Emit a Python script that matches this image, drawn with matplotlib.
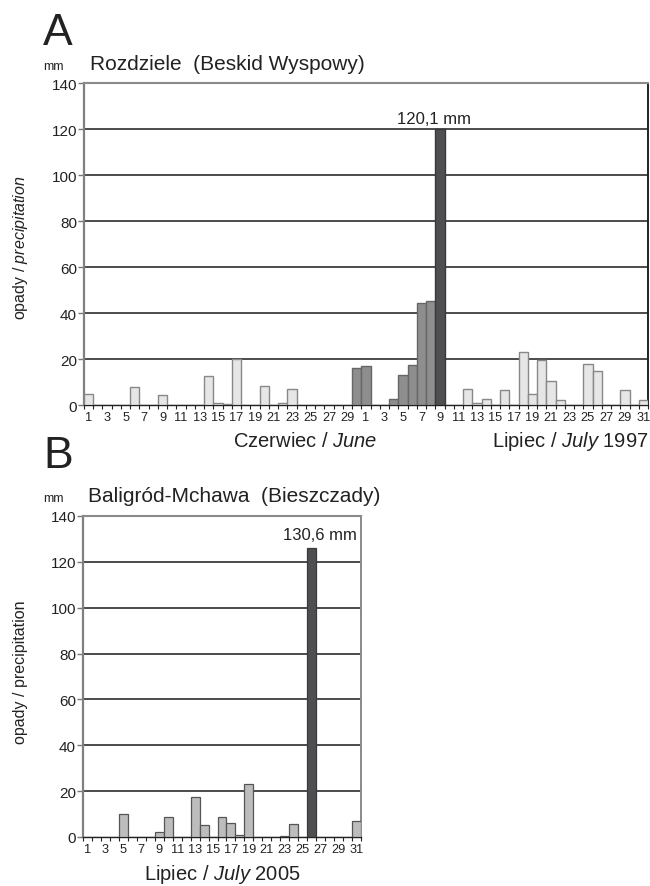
import matplotlib

matplotlib.use("Agg")

import matplotlib.pyplot as plt
import numpy as np

plt.rcParams["font.family"] = ["Liberation Sans", "DejaVu Sans"]
plt.rcParams["mathtext.fontset"] = "custom"
plt.rcParams["mathtext.rm"] = "Liberation Sans"
plt.rcParams["mathtext.it"] = "Liberation Sans:italic"

W, H = 650, 887

# Panel A: Rozdziele, June + July 1997 (mm)
june_days = list(range(1, 31))
june_1997 = [4.8, 0, 0, 0, 0, 7.7, 0, 0, 4.2, 0,
             0, 0, 0, 12.8, 0.9, 0.4, 20.0, 0, 0, 8.4,
             0, 0.9, 7.1, 0, 0, 0, 0, 0, 0, 16.1]
july_days = list(range(1, 32))
july_1997 = [16.8, 0, 0, 2.6, 13.0, 17.4, 44.2, 45.2, 120.1, 0,
             0, 7.0, 0.9, 2.5, 0, 6.4, 0, 23.2, 4.9, 19.4,
             10.4, 2.2, 0, 0, 18.0, 14.9, 0, 0, 6.7, 0, 2.0]
peak_a_label = "120,1 mm"

# Panel B: Baligród-Mchawa, July 2005 (mm); peak bar drawn as in the figure
july_2005 = [0, 0, 0, 0, 9.9, 0, 0, 0, 2.1, 8.6,
             0, 0, 17.3, 5.2, 0, 8.7, 5.9, 0.9, 23.1, 0,
             0, 0, 0.4, 5.6, 0, 126.0, 0, 0, 0, 0, 7.1]
peak_b_label = "130,6 mm"

yticks = list(range(0, 141, 20))


def fx(x):
    return x / W


def fy(y):
    return 1 - y / H


def style_axes(ax, n, labels, right_color):
    ax.set_xlim(-0.5, n - 0.5)
    ax.set_ylim(0, 140)
    ax.set_yticks(yticks)
    ax.set_yticklabels([str(v) for v in yticks], fontsize=11, color="#222222")
    for v in yticks[1:-1]:
        ax.axhline(v, color="#1a1a1a", lw=1.1, zorder=1)
    pos = [i for i, d in enumerate(labels) if d % 2 == 1]
    ax.set_xticks(pos)
    ax.set_xticklabels([str(labels[i]) for i in pos], fontsize=9.2, color="#222222")
    ax.set_xticks(np.arange(-0.5, n, 1.0), minor=True)
    ax.tick_params(axis="x", which="major", length=0, pad=4)
    ax.tick_params(axis="x", which="minor", length=3, width=0.8, color="#222222", direction="out")
    ax.tick_params(axis="y", length=4, width=1.0, color="#777777", pad=1)
    ax.spines["left"].set_color("#808080")
    ax.spines["left"].set_linewidth(1.6)
    ax.spines["top"].set_color("#8a8a8a")
    ax.spines["top"].set_linewidth(1.5)
    ax.spines["bottom"].set_color("#222222")
    ax.spines["bottom"].set_linewidth(1.0)
    ax.spines["right"].set_color(right_color)
    ax.spines["right"].set_linewidth(1.4)


fig = plt.figure(figsize=(6.5, 8.87), dpi=100)

# ---- Panel A
ax_a = fig.add_axes([fx(84), fy(406), fx(648) - fx(84), (406 - 84) / H])
vals_a = june_1997 + july_1997
labels_a = june_days + july_days
n_a = len(vals_a)
peak_a = int(np.argmax(vals_a))
fill_a, edge_a = [], []
for i in range(n_a):
    if i == peak_a:
        fill_a.append("#4f4f52")
        edge_a.append("#3a3a3c")
    elif 29 <= i < peak_a:
        fill_a.append("#8e8e8e")
        edge_a.append("#666666")
    else:
        fill_a.append("#e6e6e6")
        edge_a.append("#888888")
ax_a.bar(np.arange(n_a), vals_a, width=1.0, color=fill_a, edgecolor=edge_a,
         linewidth=1.0, zorder=3)
style_axes(ax_a, n_a, labels_a, "#222222")
ax_a.text(peak_a - 0.6, 121.5, peak_a_label, ha="center", va="bottom",
          fontsize=12, color="#222222")

fig.text(fx(43), fy(45), "A", fontsize=32, color="#222222")
fig.text(fx(43), fy(70), "mm", fontsize=9, color="#222222")
fig.text(fx(90), fy(70), "Rozdziele  (Beskid Wyspowy)", fontsize=15, color="#222222")
fig.text(fx(21), fy(248), r"opady / $\it{precipitation}$", rotation=90,
         ha="center", va="center", fontsize=11.5, color="#222222")
fig.text(fx(305), fy(447), r"Czerwiec / $\it{June}$", ha="center",
         fontsize=14.5, color="#222222")
fig.text(fx(648), fy(447), r"Lipiec / $\it{July}$ 1997", ha="right",
         fontsize=14.5, color="#222222")

# ---- Panel B
ax_b = fig.add_axes([fx(83), fy(838), fx(361) - fx(83), (838 - 517) / H])
n_b = len(july_2005)
peak_b = int(np.argmax(july_2005))
fill_b = ["#4f4f52" if i == peak_b else "#bdbdbd" for i in range(n_b)]
edge_b = ["#3a3a3c" if i == peak_b else "#555555" for i in range(n_b)]
ax_b.bar(np.arange(n_b), july_2005, width=1.0, color=fill_b, edgecolor=edge_b,
         linewidth=0.9, zorder=3)
style_axes(ax_b, n_b, july_days, "#8a8a8a")
ax_b.text(peak_b + 0.9, 132, peak_b_label, ha="center", va="center",
          fontsize=12, color="#222222",
          bbox=dict(facecolor="white", edgecolor="none", pad=1))

fig.text(fx(43), fy(468), "B", fontsize=32, color="#222222")
fig.text(fx(43), fy(502), "mm", fontsize=9, color="#222222")
fig.text(fx(88), fy(502), "Baligród-Mchawa  (Bieszczady)", fontsize=15, color="#222222")
fig.text(fx(21), fy(672), "opady / precipitation", rotation=90,
         ha="center", va="center", fontsize=11.5, color="#222222")
fig.text(fx(222), fy(880), r"Lipiec / $\it{July}$ 2005", ha="center",
         fontsize=14.5, color="#222222")

fig.savefig("out.png", dpi=100)
plt.close(fig)
